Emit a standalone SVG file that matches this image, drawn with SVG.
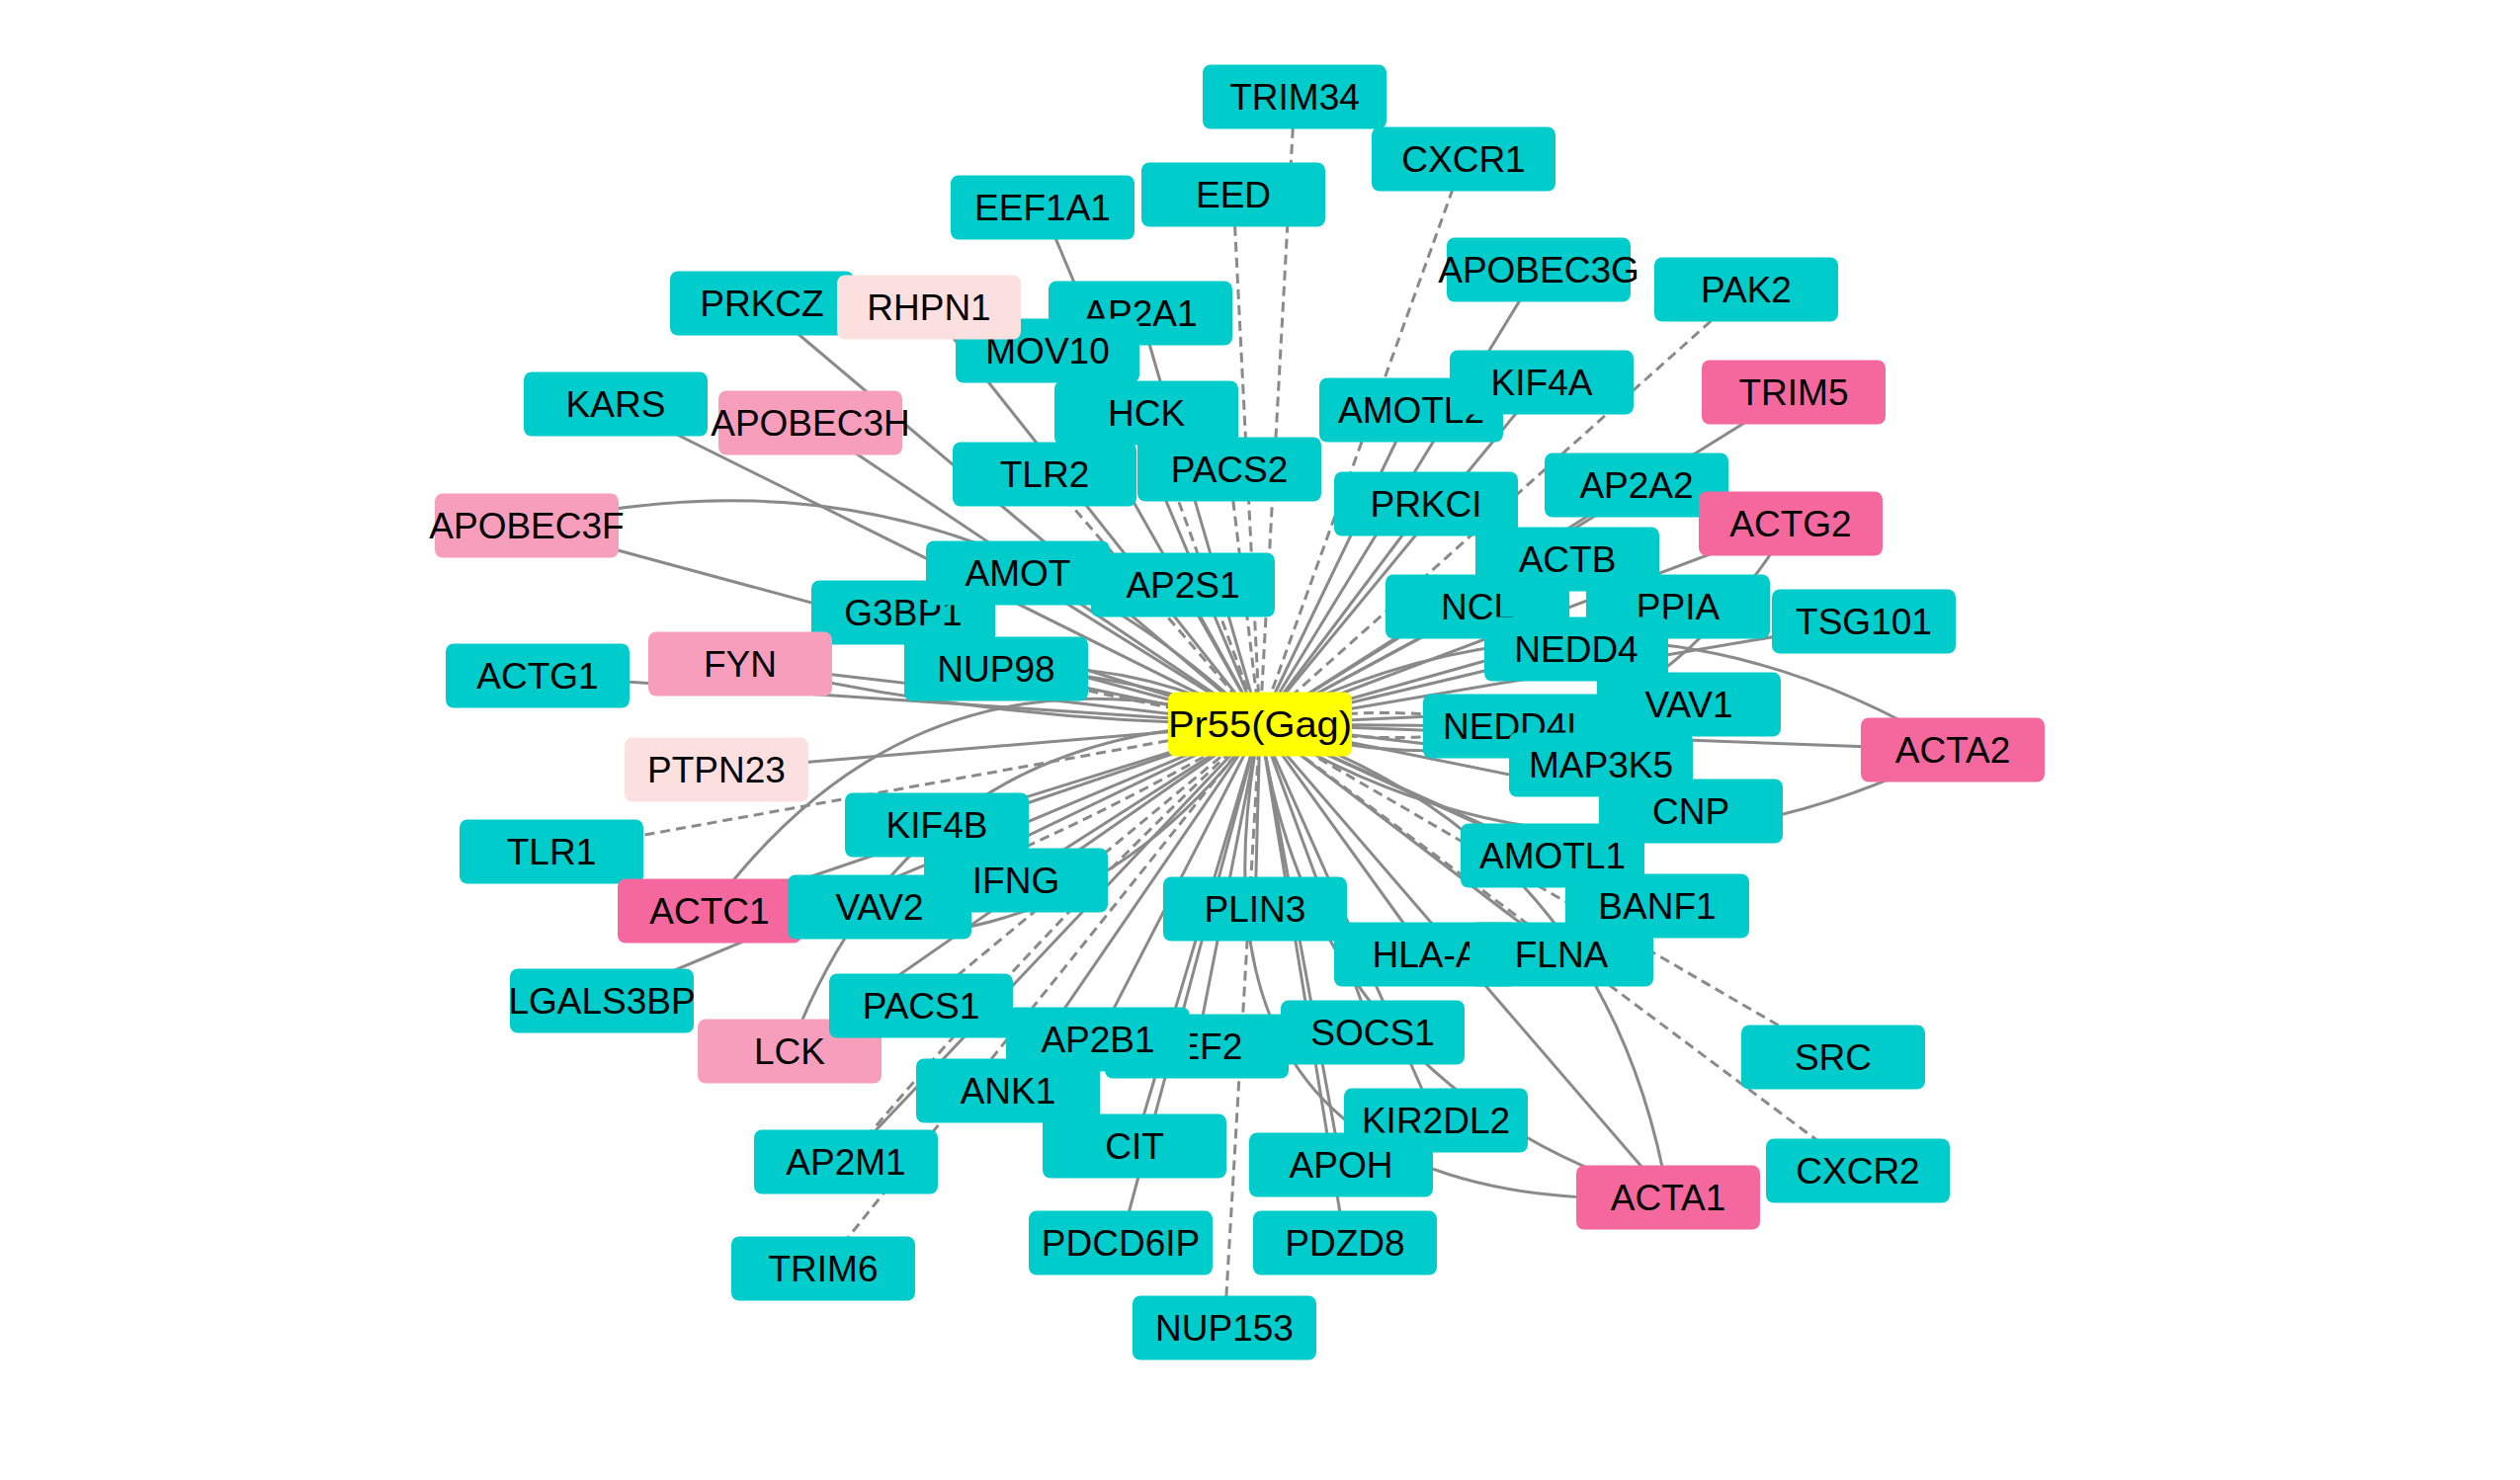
<svg xmlns="http://www.w3.org/2000/svg" width="2550" height="1498" viewBox="0 0 2550 1498">
<style>
.e line,.e path{stroke:#8a8a8a;stroke-width:3;fill:none}
.e .d{stroke-dasharray:10 6}
.n rect{fill:#00CCCC}
.n.p rect{fill:#F79EBC}
.n.h rect{fill:#F5689D}
.n.l rect{fill:#FCE0E0}
.n.y rect{fill:#FFFF00}
.n text{font-family:"Liberation Sans",Arial,sans-serif;font-size:37px;fill:#000;text-anchor:middle}
</style>
<rect width="2550" height="1498" fill="#fff"/>
<g id="edges" class="e">
<line x1="1310" y1="98" x2="1275" y2="733" class="d"/>
<line x1="1481" y1="161" x2="1275" y2="733" class="d"/>
<line x1="1248" y1="197" x2="1275" y2="733" class="d"/>
<line x1="1767" y1="293" x2="1275" y2="733" class="d"/>
<line x1="1160" y1="418" x2="1275" y2="733" class="d"/>
<line x1="1057" y1="480" x2="1275" y2="733" class="d"/>
<line x1="1244" y1="475" x2="1275" y2="733" class="d"/>
<line x1="558" y1="862" x2="1275" y2="733" class="d"/>
<line x1="1855" y1="1070" x2="1275" y2="733" class="d"/>
<line x1="1880" y1="1185" x2="1275" y2="733" class="d"/>
<line x1="1239" y1="1344" x2="1275" y2="733" class="d"/>
<line x1="833" y1="1284" x2="1275" y2="733" class="d"/>
<line x1="932" y1="1018" x2="1275" y2="733" class="d"/>
<path d="M1533,735 Q1404,709 1275,733" class="d"/>
<path d="M1533,735 Q1404,759 1275,733" class="d"/>
<path d="M1008,677 Q1140,710 1275,733" class="d"/>
<path d="M890,918 Q1091,843 1275,733" class="d"/>
<path d="M856,1176 Q1051,941 1275,733" class="d"/>
<line x1="1055" y1="210" x2="1275" y2="733"/>
<line x1="1557" y1="273" x2="1275" y2="733"/>
<line x1="771" y1="307" x2="1275" y2="733"/>
<line x1="940" y1="311" x2="1275" y2="733"/>
<line x1="1154" y1="317" x2="1275" y2="733"/>
<line x1="1060" y1="355" x2="1275" y2="733"/>
<line x1="1560" y1="387" x2="1275" y2="733"/>
<line x1="1815" y1="397" x2="1275" y2="733"/>
<line x1="623" y1="409" x2="1275" y2="733"/>
<line x1="820" y1="428" x2="1275" y2="733"/>
<line x1="1428" y1="415" x2="1275" y2="733"/>
<line x1="1656" y1="491" x2="1275" y2="733"/>
<line x1="1443" y1="510" x2="1275" y2="733"/>
<line x1="533" y1="532" x2="1275" y2="733"/>
<line x1="1812" y1="530" x2="1275" y2="733"/>
<line x1="1586" y1="566" x2="1275" y2="733"/>
<line x1="1030" y1="580" x2="1275" y2="733"/>
<line x1="1197" y1="592" x2="1275" y2="733"/>
<line x1="914" y1="620" x2="1275" y2="733"/>
<line x1="1495" y1="614" x2="1275" y2="733"/>
<line x1="1698" y1="614" x2="1275" y2="733"/>
<line x1="1886" y1="629" x2="1275" y2="733"/>
<line x1="1595" y1="657" x2="1275" y2="733"/>
<line x1="544" y1="684" x2="1275" y2="733"/>
<line x1="749" y1="672" x2="1275" y2="733"/>
<line x1="1008" y1="677" x2="1275" y2="733"/>
<line x1="1533" y1="735" x2="1275" y2="733"/>
<line x1="1709" y1="713" x2="1275" y2="733"/>
<line x1="1976" y1="759" x2="1275" y2="733"/>
<line x1="725" y1="779" x2="1275" y2="733"/>
<line x1="1620" y1="774" x2="1275" y2="733"/>
<line x1="948" y1="835" x2="1275" y2="733"/>
<line x1="1711" y1="821" x2="1275" y2="733"/>
<line x1="1571" y1="866" x2="1275" y2="733"/>
<line x1="1028" y1="891" x2="1275" y2="733"/>
<line x1="718" y1="922" x2="1275" y2="733"/>
<line x1="890" y1="918" x2="1275" y2="733"/>
<line x1="1270" y1="920" x2="1275" y2="733"/>
<line x1="1677" y1="917" x2="1275" y2="733"/>
<line x1="1443" y1="966" x2="1275" y2="733"/>
<line x1="1580" y1="966" x2="1275" y2="733"/>
<line x1="609" y1="1013" x2="1275" y2="733"/>
<line x1="799" y1="1064" x2="1275" y2="733"/>
<line x1="1111" y1="1052" x2="1275" y2="733"/>
<line x1="1211" y1="1059" x2="1275" y2="733"/>
<line x1="1389" y1="1045" x2="1275" y2="733"/>
<line x1="1020" y1="1104" x2="1275" y2="733"/>
<line x1="1453" y1="1134" x2="1275" y2="733"/>
<line x1="1148" y1="1160" x2="1275" y2="733"/>
<line x1="856" y1="1176" x2="1275" y2="733"/>
<line x1="1357" y1="1179" x2="1275" y2="733"/>
<line x1="1688" y1="1212" x2="1275" y2="733"/>
<line x1="1134" y1="1258" x2="1275" y2="733"/>
<line x1="1361" y1="1258" x2="1275" y2="733"/>
<path d="M1976,759 Q1633,551 1275,733"/>
<path d="M1976,759 Q1618,941 1275,733"/>
<path d="M1688,1212 Q1625,848 1275,733"/>
<path d="M1688,1212 Q1330,1103 1275,733"/>
<path d="M1688,1212 Q1179,1234 1275,733"/>
<path d="M718,922 Q931,633 1275,733"/>
<path d="M718,922 Q1062,1022 1275,733"/>
<path d="M799,1064 Q923,734 1275,733"/>
<path d="M533,532 Q958,431 1275,733"/>
<path d="M749,672 Q1008,732 1275,733"/>
<path d="M1008,677 Q1150,666 1275,733"/>
<path d="M1008,677 Q1147,680 1275,733"/>
<path d="M1812,530 Q1621,838 1275,733"/>
</g>
<g id="nodes">
<g id="TRIM34" class="n"><rect x="1217" y="65.5" width="186" height="65" rx="8"/><text x="1310" y="111">TRIM34</text></g>
<g id="CXCR1" class="n"><rect x="1388" y="128.5" width="186" height="65" rx="8"/><text x="1481" y="174">CXCR1</text></g>
<g id="EEF1A1" class="n"><rect x="962" y="177.5" width="186" height="65" rx="8"/><text x="1055" y="223">EEF1A1</text></g>
<g id="EED" class="n"><rect x="1155" y="164.5" width="186" height="65" rx="8"/><text x="1248" y="210">EED</text></g>
<g id="APOBEC3G" class="n"><rect x="1464" y="240.5" width="186" height="65" rx="8"/><text x="1557" y="286">APOBEC3G</text></g>
<g id="PAK2" class="n"><rect x="1674" y="260.5" width="186" height="65" rx="8"/><text x="1767" y="306">PAK2</text></g>
<g id="PRKCZ" class="n"><rect x="678" y="274.5" width="186" height="65" rx="8"/><text x="771" y="320">PRKCZ</text></g>
<g id="AP2A1" class="n"><rect x="1061" y="284.5" width="186" height="65" rx="8"/><text x="1154" y="330">AP2A1</text></g>
<g id="MOV10" class="n"><rect x="967" y="322.5" width="186" height="65" rx="8"/><text x="1060" y="368">MOV10</text></g>
<g id="RHPN1" class="n l"><rect x="847" y="278.5" width="186" height="65" rx="8"/><text x="940" y="324">RHPN1</text></g>
<g id="AMOTL2" class="n"><rect x="1335" y="382.5" width="186" height="65" rx="8"/><text x="1428" y="428">AMOTL2</text></g>
<g id="KIF4A" class="n"><rect x="1467" y="354.5" width="186" height="65" rx="8"/><text x="1560" y="400">KIF4A</text></g>
<g id="TRIM5" class="n h"><rect x="1722" y="364.5" width="186" height="65" rx="8"/><text x="1815" y="410">TRIM5</text></g>
<g id="KARS" class="n"><rect x="530" y="376.5" width="186" height="65" rx="8"/><text x="623" y="422">KARS</text></g>
<g id="APOBEC3H" class="n p"><rect x="727" y="395.5" width="186" height="65" rx="8"/><text x="820" y="441">APOBEC3H</text></g>
<g id="HCK" class="n"><rect x="1067" y="385.5" width="186" height="65" rx="8"/><text x="1160" y="431">HCK</text></g>
<g id="TLR2" class="n"><rect x="964" y="447.5" width="186" height="65" rx="8"/><text x="1057" y="493">TLR2</text></g>
<g id="PACS2" class="n"><rect x="1151" y="442.5" width="186" height="65" rx="8"/><text x="1244" y="488">PACS2</text></g>
<g id="AP2A2" class="n"><rect x="1563" y="458.5" width="186" height="65" rx="8"/><text x="1656" y="504">AP2A2</text></g>
<g id="PRKCI" class="n"><rect x="1350" y="477.5" width="186" height="65" rx="8"/><text x="1443" y="523">PRKCI</text></g>
<g id="ACTB" class="n"><rect x="1493" y="533.5" width="186" height="65" rx="8"/><text x="1586" y="579">ACTB</text></g>
<g id="APOBEC3F" class="n p"><rect x="440" y="499.5" width="186" height="65" rx="8"/><text x="533" y="545">APOBEC3F</text></g>
<g id="ACTG2" class="n h"><rect x="1719" y="497.5" width="186" height="65" rx="8"/><text x="1812" y="543">ACTG2</text></g>
<g id="G3BP1" class="n"><rect x="821" y="587.5" width="186" height="65" rx="8"/><text x="914" y="633">G3BP1</text></g>
<g id="AMOT" class="n"><rect x="937" y="547.5" width="186" height="65" rx="8"/><text x="1030" y="593">AMOT</text></g>
<g id="AP2S1" class="n"><rect x="1104" y="559.5" width="186" height="65" rx="8"/><text x="1197" y="605">AP2S1</text></g>
<g id="FYN" class="n p"><rect x="656" y="639.5" width="186" height="65" rx="8"/><text x="749" y="685">FYN</text></g>
<g id="NCL" class="n"><rect x="1402" y="581.5" width="186" height="65" rx="8"/><text x="1495" y="627">NCL</text></g>
<g id="PPIA" class="n"><rect x="1605" y="581.5" width="186" height="65" rx="8"/><text x="1698" y="627">PPIA</text></g>
<g id="TSG101" class="n"><rect x="1793" y="596.5" width="186" height="65" rx="8"/><text x="1886" y="642">TSG101</text></g>
<g id="NEDD4" class="n"><rect x="1502" y="624.5" width="186" height="65" rx="8"/><text x="1595" y="670">NEDD4</text></g>
<g id="ACTG1" class="n"><rect x="451" y="651.5" width="186" height="65" rx="8"/><text x="544" y="697">ACTG1</text></g>
<g id="NUP98" class="n"><rect x="915" y="644.5" width="186" height="65" rx="8"/><text x="1008" y="690">NUP98</text></g>
<g id="NEDD4L" class="n"><rect x="1440" y="702.5" width="186" height="65" rx="8"/><text x="1533" y="748">NEDD4L</text></g>
<g id="VAV1" class="n"><rect x="1616" y="680.5" width="186" height="65" rx="8"/><text x="1709" y="726">VAV1</text></g>
<g id="MAP3K5" class="n"><rect x="1527" y="741.5" width="186" height="65" rx="8"/><text x="1620" y="787">MAP3K5</text></g>
<g id="ACTA2" class="n h"><rect x="1883" y="726.5" width="186" height="65" rx="8"/><text x="1976" y="772">ACTA2</text></g>
<g id="PTPN23" class="n l"><rect x="632" y="746.5" width="186" height="65" rx="8"/><text x="725" y="792">PTPN23</text></g>
<g id="KIF4B" class="n"><rect x="855" y="802.5" width="186" height="65" rx="8"/><text x="948" y="848">KIF4B</text></g>
<g id="CNP" class="n"><rect x="1618" y="788.5" width="186" height="65" rx="8"/><text x="1711" y="834">CNP</text></g>
<g id="AMOTL1" class="n"><rect x="1478" y="833.5" width="186" height="65" rx="8"/><text x="1571" y="879">AMOTL1</text></g>
<g id="TLR1" class="n"><rect x="465" y="829.5" width="186" height="65" rx="8"/><text x="558" y="875">TLR1</text></g>
<g id="ACTC1" class="n h"><rect x="625" y="889.5" width="186" height="65" rx="8"/><text x="718" y="935">ACTC1</text></g>
<g id="VAV2" class="n"><rect x="797" y="885.5" width="186" height="65" rx="8"/><text x="890" y="931">VAV2</text></g>
<g id="IFNG" class="n"><rect x="935" y="858.5" width="186" height="65" rx="8"/><text x="1028" y="904">IFNG</text></g>
<g id="PLIN3" class="n"><rect x="1177" y="887.5" width="186" height="65" rx="8"/><text x="1270" y="933">PLIN3</text></g>
<g id="BANF1" class="n"><rect x="1584" y="884.5" width="186" height="65" rx="8"/><text x="1677" y="930">BANF1</text></g>
<g id="HLA-A" class="n"><rect x="1350" y="933.5" width="186" height="65" rx="8"/><text x="1443" y="979">HLA-A</text></g>
<g id="FLNA" class="n"><rect x="1487" y="933.5" width="186" height="65" rx="8"/><text x="1580" y="979">FLNA</text></g>
<g id="LGALS3BP" class="n"><rect x="516" y="980.5" width="186" height="65" rx="8"/><text x="609" y="1026">LGALS3BP</text></g>
<g id="LCK" class="n p"><rect x="706" y="1031.5" width="186" height="65" rx="8"/><text x="799" y="1077">LCK</text></g>
<g id="PACS1" class="n"><rect x="839" y="985.5" width="186" height="65" rx="8"/><text x="932" y="1031">PACS1</text></g>
<g id="SRC" class="n"><rect x="1762" y="1037.5" width="186" height="65" rx="8"/><text x="1855" y="1083">SRC</text></g>
<g id="EEF2" class="n"><rect x="1118" y="1026.5" width="186" height="65" rx="8"/><text x="1211" y="1072">EEF2</text></g>
<g id="AP2B1" class="n"><rect x="1018" y="1019.5" width="186" height="65" rx="8"/><text x="1111" y="1065">AP2B1</text></g>
<g id="SOCS1" class="n"><rect x="1296" y="1012.5" width="186" height="65" rx="8"/><text x="1389" y="1058">SOCS1</text></g>
<g id="ANK1" class="n"><rect x="927" y="1071.5" width="186" height="65" rx="8"/><text x="1020" y="1117">ANK1</text></g>
<g id="KIR2DL2" class="n"><rect x="1360" y="1101.5" width="186" height="65" rx="8"/><text x="1453" y="1147">KIR2DL2</text></g>
<g id="APOH" class="n"><rect x="1264" y="1146.5" width="186" height="65" rx="8"/><text x="1357" y="1192">APOH</text></g>
<g id="CIT" class="n"><rect x="1055" y="1127.5" width="186" height="65" rx="8"/><text x="1148" y="1173">CIT</text></g>
<g id="AP2M1" class="n"><rect x="763" y="1143.5" width="186" height="65" rx="8"/><text x="856" y="1189">AP2M1</text></g>
<g id="ACTA1" class="n h"><rect x="1595" y="1179.5" width="186" height="65" rx="8"/><text x="1688" y="1225">ACTA1</text></g>
<g id="CXCR2" class="n"><rect x="1787" y="1152.5" width="186" height="65" rx="8"/><text x="1880" y="1198">CXCR2</text></g>
<g id="PDCD6IP" class="n"><rect x="1041" y="1225.5" width="186" height="65" rx="8"/><text x="1134" y="1271">PDCD6IP</text></g>
<g id="PDZD8" class="n"><rect x="1268" y="1225.5" width="186" height="65" rx="8"/><text x="1361" y="1271">PDZD8</text></g>
<g id="TRIM6" class="n"><rect x="740" y="1251.5" width="186" height="65" rx="8"/><text x="833" y="1297">TRIM6</text></g>
<g id="NUP153" class="n"><rect x="1146" y="1311.5" width="186" height="65" rx="8"/><text x="1239" y="1357">NUP153</text></g>
<g id="Pr55Gag" class="n y"><rect x="1182" y="700.5" width="186" height="65" rx="8"/><text x="1275" y="746" textLength="186" lengthAdjust="spacingAndGlyphs">Pr55(Gag)</text></g>
</g>
</svg>
